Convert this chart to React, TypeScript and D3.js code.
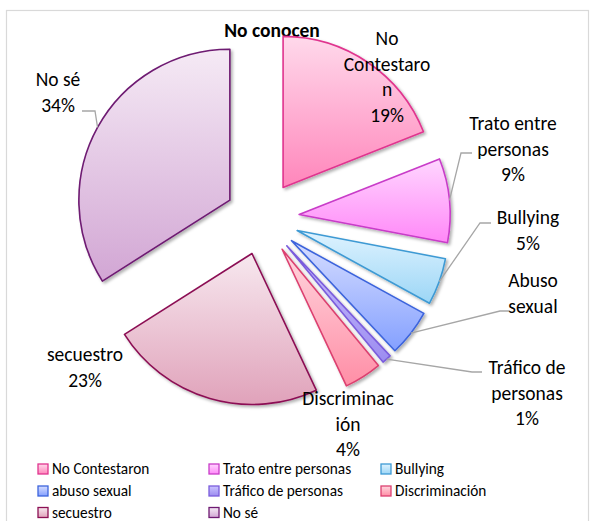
import React from "react";
import * as d3 from "d3";

const categories = [
  "No Contestaron",
  "Trato entre personas",
  "Bullying",
  "abuso sexual",
  "Tráfico de personas",
  "Discriminación",
  "secuestro",
  "No sé",
];
const values = [19, 9, 5, 5, 1, 4, 23, 34];
const labelLines = [
  ["No", "Contestaro", "n", "19%"],
  ["Trato entre", "personas", "9%"],
  ["Bullying", "5%"],
  ["Abuso", "sexual"],
  ["Tráfico de", "personas", "1%"],
  ["Discriminac", "ión", "4%"],
  ["secuestro", "23%"],
  ["No sé", "34%"],
];

// styling (not data)
const fillTop = ["#ffd9eb", "#ffd6ff", "#dff3ff", "#d6ddff", "#cbc3ff", "#ffd6de", "#f7e8ef", "#f5eaf5"];
const fillBottom = ["#ff86bb", "#ff88f8", "#9cd6f6", "#84a0ff", "#9c8cf0", "#ff8ea6", "#e0a2ba", "#d2a6d4"];
const strokes = ["#e0358f", "#c83cc8", "#3e9ad4", "#3c64dc", "#7a5cdc", "#dc4070", "#8c1054", "#6e1a72"];

// label layout: text center x, first line center y, leader elbow (if any)
const labelLayout: { x: number; y: number; elbow?: [number, number]; end?: number }[] = [
  { x: 387, y: 38 },
  { x: 513, y: 123, elbow: [461, 153], end: 472 },
  { x: 528, y: 217, elbow: [480, 223], end: 491 },
  { x: 533, y: 280, elbow: [500, 311], end: 510 },
  { x: 527, y: 367, elbow: [472, 372], end: 482 },
  { x: 348, y: 398 },
  { x: 85, y: 354 },
  { x: 58, y: 79, elbow: [95, 111], end: 82 },
];

const W = 592;
const H = 521;
const cx = 262.3;
const cy = 218;
const R = 151;
const EXPLODE = 37;
const FONT = "Carlito, Calibri, Lato, 'Open Sans', sans-serif";

export default function App() {
  const pie = d3
    .pie<number>()
    .sort(null)
    .value((d) => d)
    .startAngle(0)
    .endAngle(2 * Math.PI);
  const arcs = pie(values);
  const arc = d3.arc<d3.PieArcDatum<number>>().innerRadius(0).outerRadius(R);

  const lineH = 25.5;
  const fs = 19.5;

  const legendCols = [38, 209, 381];
  const legendRows = [469, 491, 512.5];

  return (
    <svg
      width={W}
      height={H}
      style={{ position: "absolute", left: 0, top: 0, background: "#fff" }}
      fontFamily={FONT}
    >
      <defs>
        {categories.map((c, i) => (
          <linearGradient key={c} id={`g${i}`} x1="0" y1="0" x2="0" y2="1">
            <stop offset="0" stopColor={fillTop[i]} />
            <stop offset="1" stopColor={fillBottom[i]} />
          </linearGradient>
        ))}
        <filter id="sh" x="-20%" y="-20%" width="140%" height="140%">
          <feDropShadow dx="2" dy="2" stdDeviation="1.6" floodColor="#000" floodOpacity="0.3" />
        </filter>
      </defs>
      <rect x={6.5} y={10.5} width={582} height={530} fill="#fff" stroke="#d9d9d9" strokeWidth={1.2} />
      <text x={272} y={37} textAnchor="middle" fontWeight="bold" fontSize={19.5} fill="#000">
        No conocen
      </text>
      {arcs.map((a, i) => {
        const mid = (a.startAngle + a.endAngle) / 2;
        const dx = Math.sin(mid) * EXPLODE;
        const dy = -Math.cos(mid) * EXPLODE;
        return (
          <path
            key={i}
            d={arc(a) || ""}
            transform={`translate(${cx + dx},${cy + dy})`}
            fill={`url(#g${i})`}
            stroke={strokes[i]}
            strokeWidth={1.6}
            strokeLinejoin="round"
            filter="url(#sh)"
          />
        );
      })}
      {arcs.map((a, i) => {
        const L = labelLayout[i];
        if (!L.elbow) return null;
        const mid = (a.startAngle + a.endAngle) / 2;
        const px = cx + Math.sin(mid) * (EXPLODE + R);
        const py = cy - Math.cos(mid) * (EXPLODE + R);
        return (
          <polyline
            key={"l" + i}
            points={`${px},${py} ${L.elbow[0]},${L.elbow[1]} ${L.end},${L.elbow[1]}`}
            fill="none"
            stroke="#a6a6a6"
            strokeWidth={1.3}
          />
        );
      })}
      {labelLines.map((lines, i) => {
        const L = labelLayout[i];
        return (
          <text key={"t" + i} textAnchor="middle" fontSize={fs} fill="#000">
            {lines.map((ln, j) => (
              <tspan key={j} x={L.x} y={L.y + j * lineH + fs * 0.36}>
                {ln}
              </tspan>
            ))}
          </text>
        );
      })}
      {categories.map((c, i) => {
        const col = i % 3;
        const row = Math.floor(i / 3);
        const x = legendCols[col];
        const y = legendRows[row];
        return (
          <g key={"lg" + i}>
            <rect x={x} y={y - 5} width={10} height={10} fill={`url(#g${i})`} stroke={strokes[i]} strokeWidth={1.3} />
            <text x={x + 14} y={y + 5} fontSize={15.3} fill="#000">
              {c}
            </text>
          </g>
        );
      })}
    </svg>
  );
}
